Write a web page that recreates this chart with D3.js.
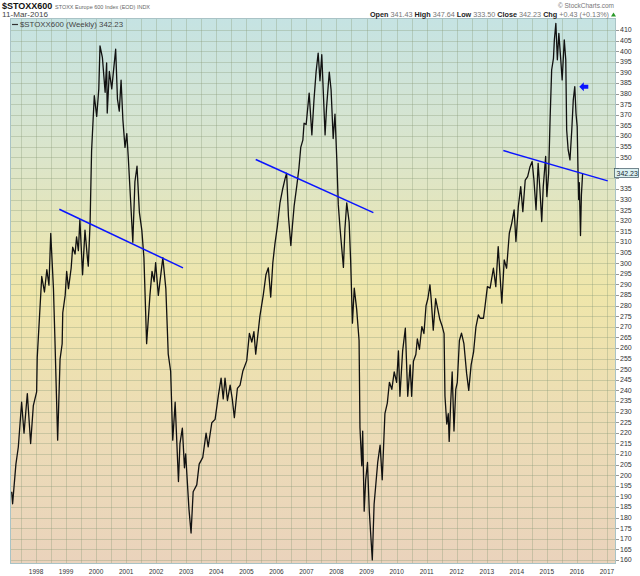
<!DOCTYPE html>
<html>
<head>
<meta charset="utf-8">
<script src="https://cdn.jsdelivr.net/npm/d3@7"></script>
<style>
  body { margin: 0; background: #fff; }
  text { font-family: "Liberation Sans", Arial, sans-serif; }
</style>
</head>
<body>
<svg id="chart" width="640" height="576"></svg>
<script>
// Weekly closes of $STOXX600 (time as decimal year)
const times = [
  1997.19, 1997.22, 1997.33, 1997.41, 1997.52, 1997.60, 1997.71, 1997.82, 1997.91,
  1998.02, 1998.04, 1998.19, 1998.28, 1998.36, 1998.43, 1998.49, 1998.58, 1998.63, 1998.72, 1998.80, 1998.87, 1998.89, 1998.97,
  1999.02, 1999.08, 1999.17, 1999.22, 1999.30, 1999.35, 1999.41, 1999.46, 1999.55, 1999.63, 1999.71, 1999.74, 1999.80, 1999.85, 1999.94,
  2000.02, 2000.09, 2000.13, 2000.21, 2000.30, 2000.35, 2000.37, 2000.44, 2000.52, 2000.57, 2000.65, 2000.71, 2000.77, 2000.83, 2000.89, 2000.96,
  2001.02, 2001.07, 2001.15, 2001.22, 2001.29, 2001.36, 2001.44, 2001.52, 2001.59, 2001.68, 2001.79, 2001.86, 2001.93, 2001.98,
  2002.07, 2002.22, 2002.32, 2002.40, 2002.48, 2002.55, 2002.63, 2002.74, 2002.79, 2002.87, 2002.94, 2002.98,
  2003.09, 2003.16, 2003.23, 2003.35, 2003.43, 2003.55, 2003.66, 2003.73, 2003.85, 2003.96,
  2004.07, 2004.16, 2004.23, 2004.29, 2004.37, 2004.46, 2004.53, 2004.60, 2004.70, 2004.79, 2004.88,
  2005.01, 2005.10, 2005.18, 2005.25, 2005.31, 2005.45, 2005.56, 2005.65, 2005.73, 2005.81, 2005.88, 2005.95,
  2006.03, 2006.12, 2006.21, 2006.29, 2006.34, 2006.40, 2006.48, 2006.53, 2006.59, 2006.68, 2006.75, 2006.81, 2006.88, 2006.92, 2006.99,
  2007.09, 2007.18, 2007.25, 2007.32, 2007.39, 2007.45, 2007.51, 2007.62, 2007.67, 2007.76, 2007.82, 2007.89, 2007.95,
  2008.01, 2008.06, 2008.12, 2008.23, 2008.28, 2008.34, 2008.42, 2008.47, 2008.53, 2008.59, 2008.67, 2008.75, 2008.78, 2008.84, 2008.87, 2008.92, 2008.97,
  2009.03, 2009.09, 2009.19, 2009.25, 2009.31, 2009.37, 2009.45, 2009.52, 2009.61, 2009.69, 2009.76, 2009.84, 2009.92,
  2010.00, 2010.06, 2010.11, 2010.20, 2010.29, 2010.37, 2010.45, 2010.50, 2010.56, 2010.64, 2010.69, 2010.76, 2010.84, 2010.91, 2010.98,
  2011.04, 2011.11, 2011.15, 2011.22, 2011.30, 2011.37, 2011.44, 2011.52, 2011.58, 2011.61, 2011.67, 2011.72, 2011.75, 2011.80, 2011.85, 2011.91, 2011.97,
  2012.02, 2012.09, 2012.16, 2012.24, 2012.33, 2012.40, 2012.48, 2012.56, 2012.64, 2012.72, 2012.78, 2012.89, 2012.94,
  2013.02, 2013.11, 2013.22, 2013.30, 2013.38, 2013.50, 2013.58, 2013.66, 2013.75, 2013.83, 2013.91, 2013.97,
  2014.05, 2014.13, 2014.20, 2014.28, 2014.36, 2014.44, 2014.51, 2014.57, 2014.64, 2014.71, 2014.77, 2014.83, 2014.88, 2014.96,
  2015.00, 2015.06, 2015.11, 2015.16, 2015.22, 2015.25, 2015.30, 2015.35, 2015.40, 2015.46, 2015.51, 2015.58, 2015.63, 2015.66, 2015.71, 2015.77, 2015.83, 2015.88, 2015.93, 2015.97,
  2016.01, 2016.04, 2016.06, 2016.08, 2016.12, 2016.15, 2016.19
];
const closes = [
  192.2, 186.5, 205.2, 213.3, 234.4, 219.8, 238.5, 214.9, 232.8,
  239.3, 255.5, 293.7, 286.4, 296.9, 289.6, 314.0, 288.0, 263.6, 216.5, 254.7, 262.0, 276.6, 284.8,
  296.1, 288.0, 297.7, 307.5, 304.3, 312.4, 305.9, 320.5, 294.5, 315.6, 302.6, 298.6, 318.9, 353.0, 379.0,
  369.2, 382.2, 402.5, 396.9, 380.6, 394.4, 370.8, 390.4, 382.2, 389.5, 400.9, 377.3, 371.7, 386.3, 367.6, 354.6,
  361.1, 349.7, 328.6, 309.9, 338.4, 345.7, 323.8, 315.6, 302.6, 262.0, 284.8, 296.1, 291.3, 300.2,
  284.8, 302.6, 288.0, 257.1, 249.0, 216.5, 234.4, 197.0, 214.9, 222.2, 203.5, 210.0,
  184.0, 172.7, 192.2, 195.4, 205.2, 208.4, 219.8, 213.3, 224.7, 226.3,
  237.6, 245.8, 236.0, 245.8, 235.2, 242.5, 236.0, 227.1, 240.9, 242.5, 249.0,
  253.9, 266.9, 262.8, 267.7, 257.1, 275.0, 284.8, 294.5, 297.8, 284.0, 300.2, 309.1,
  317.2, 328.6, 335.1, 340.0, 342.4, 322.1, 308.3, 317.2, 327.0, 336.7, 344.9, 354.6, 358.0, 366.0, 365.4,
  380.2, 360.5, 376.9, 390.1, 399.1, 386.0, 398.3, 360.5, 373.6, 390.1, 381.8, 358.8, 370.3,
  349.0, 327.6, 316.1, 298.0, 316.1, 328.4, 319.4, 301.3, 271.7, 288.2, 278.3, 263.5, 222.4, 204.4, 220.8, 183.0, 197.8,
  206.0, 183.0, 160.0, 186.3, 196.1, 206.0, 214.2, 197.8, 229.0, 234.0, 243.8, 240.5, 248.7,
  243.8, 258.6, 237.2, 258.6, 269.3, 237.2, 252.0, 237.2, 253.7, 256.9, 264.3, 259.4, 270.1, 266.8, 280.0,
  283.2, 289.8, 283.2, 268.4, 283.2, 278.3, 273.4, 270.1, 266.8, 237.2, 224.1, 229.0, 215.9, 234.0, 248.7, 220.8, 240.5,
  243.8, 263.5, 267.0, 262.0, 248.0, 240.0, 252.0, 258.0, 270.0, 275.6, 274.0, 274.0, 279.5,
  288.9, 288.2, 297.6, 288.9, 307.8, 281.1, 301.5, 297.6, 314.1, 318.8, 325.1, 310.2,
  326.7, 336.1, 324.3, 339.2, 340.8, 345.5, 347.9, 339.2, 325.1, 347.1, 334.5, 319.6, 336.1, 350.3,
  331.4, 342.4, 369.1, 391.1, 396.6, 405.3, 413.1, 395.9, 408.4, 396.6, 386.4, 405.3, 395.9, 362.8, 353.4, 348.7, 362.8, 377.0, 383.3, 370.7,
  364.4, 342.0, 330.0, 338.0, 313.0, 332.0, 342.23
];

// Hand-drawn trend lines and the arrow (time, price)
const trendLines = [
  [[1998.775, 325.4], [2002.892, 297.8]],
  [[2005.311, 348.9], [2009.225, 323.8]],
  [[2013.55, 353.1], [2017.025, 338.8]]
];
const arrowTip = [2016.08, 383.2];

const priceTicks = d3.range(160, 411, 5);
const yearLabels = d3.range(1998, 2018);

const lastClose = "342.23";
const quote = [["Open", "341.43"], ["High", "347.64"], ["Low", "333.50"], ["Close", "342.23"], ["Chg", "+0.43 (+0.13%)"]];

// decimal year -> Date
function toDate(t) {
  const yr = Math.floor(t);
  const a = new Date(yr, 0, 1), b = new Date(yr + 1, 0, 1);
  return new Date(+a + (t - yr) * (b - a));
}

const plotLeft = 10, plotRight = 616, plotTop = 18, plotBottom = 564;

const svg = d3.select("#chart");

const x = d3.scaleTime()
  .domain([toDate(1997.133), toDate(2017.3)])
  .range([plotLeft, plotRight]);

const y = d3.scaleLinear()
  .domain([158.1, 416.1])
  .range([plotBottom, plotTop - 1]);

// Background gradient
const defs = svg.append("defs");
const grad = defs.append("linearGradient")
  .attr("id", "bg").attr("x1", 0).attr("y1", 0).attr("x2", 0).attr("y2", 1);
[["0%", "#c5e3e3"], ["25%", "#dbe5cb"], ["50%", "#efe6aa"], ["75%", "#ecdcb6"], ["100%", "#ead3bc"]]
  .forEach(([o, c]) => grad.append("stop").attr("offset", o).attr("stop-color", c));

defs.append("clipPath").attr("id", "plot")
  .append("rect").attr("x", plotLeft).attr("y", plotTop)
  .attr("width", plotRight - plotLeft).attr("height", plotBottom - plotTop);

svg.append("rect")
  .attr("x", plotLeft).attr("y", plotTop)
  .attr("width", plotRight - plotLeft).attr("height", plotBottom - plotTop)
  .attr("fill", "url(#bg)");

// Grid
const grid = svg.append("g").attr("stroke", "#8a9a78").attr("stroke-opacity", 0.35).attr("stroke-width", 1);

grid.selectAll("line.h")
  .data(priceTicks).enter()
  .append("line")
  .attr("x1", plotLeft).attr("x2", plotRight)
  .attr("y1", d => Math.round(y(d)) + 0.5)
  .attr("y2", d => Math.round(y(d)) + 0.5);

grid.selectAll("line.v")
  .data(d3.timeMonth.every(6).range(x.domain()[0], x.domain()[1])).enter()
  .append("line")
  .attr("y1", plotTop).attr("y2", plotBottom)
  .attr("x1", d => Math.round(x(d)) + 0.5)
  .attr("x2", d => Math.round(x(d)) + 0.5);

// Frame
svg.append("rect")
  .attr("x", plotLeft + 0.5).attr("y", plotTop + 0.5)
  .attr("width", plotRight - plotLeft - 1).attr("height", plotBottom - plotTop - 1)
  .attr("fill", "none").attr("stroke", "#a9c3c6");

// Price line
const data = times.map((t, i) => [toDate(t), closes[i]]);
svg.append("path")
  .datum(data)
  .attr("clip-path", "url(#plot)")
  .attr("fill", "none")
  .attr("stroke", "#111")
  .attr("stroke-width", 1.3)
  .attr("stroke-linejoin", "round")
  .attr("d", d3.line().x(d => x(d[0])).y(d => y(d[1])));

// Trend lines
svg.append("g")
  .selectAll("line")
  .data(trendLines).enter()
  .append("line")
  .attr("x1", d => x(toDate(d[0][0]))).attr("y1", d => y(d[0][1]))
  .attr("x2", d => x(toDate(d[1][0]))).attr("y2", d => y(d[1][1]))
  .attr("stroke", "#0a14ff").attr("stroke-width", 1.5);

// Arrow pointing left
const ax = x(toDate(arrowTip[0])), ay = y(arrowTip[1]);
svg.append("path")
  .attr("d", `M${ax},${ay} l4.5,-4.5 v2.6 h4.5 v3.8 h-4.5 v2.6 z`)
  .attr("fill", "#0a14ff");

// Right axis (labels hidden behind the last-value box are skipped)
const ly = y(+lastClose);
const yAxis = svg.append("g").attr("font-size", 7).attr("fill", "#333");
yAxis.selectAll("line")
  .data(priceTicks).enter()
  .append("line")
  .attr("x1", plotRight).attr("x2", plotRight + 3)
  .attr("y1", d => Math.round(y(d)) + 0.5).attr("y2", d => Math.round(y(d)) + 0.5)
  .attr("stroke", "#999");
yAxis.selectAll("text")
  .data(priceTicks.filter(d => Math.abs(y(d) - ly) > 8)).enter()
  .append("text")
  .attr("x", plotRight + 4)
  .attr("y", d => y(d) + 2.5)
  .text(d => d);

// Last value marker
svg.append("rect")
  .attr("x", plotRight - 1.5).attr("y", ly - 5)
  .attr("width", 24).attr("height", 9)
  .attr("fill", "#dcf1f2").attr("stroke", "#3d5560").attr("stroke-width", 0.7);
svg.append("text")
  .attr("x", plotRight + 0.5).attr("y", ly + 2.5)
  .attr("font-size", 7).attr("fill", "#1a2a33")
  .text(lastClose);

// Bottom axis
svg.append("g")
  .selectAll("text")
  .data(yearLabels).enter()
  .append("text")
  .attr("x", d => x(new Date(d, 0, 1)))
  .attr("y", 574)
  .attr("text-anchor", "middle")
  .attr("font-size", 6.5)
  .attr("fill", "#333")
  .text(d => d);

// Header
svg.append("text")
  .attr("x", 2).attr("y", 9)
  .attr("font-size", 9).attr("font-weight", "bold").attr("fill", "#111")
  .text("$STOXX600");
svg.append("text")
  .attr("x", 55).attr("y", 9)
  .attr("font-size", 6).attr("fill", "#666")
  .attr("textLength", 95).attr("lengthAdjust", "spacingAndGlyphs")
  .text("STOXX Europe 600 Index (EOD) INDX");
svg.append("text")
  .attr("x", 2).attr("y", 17)
  .attr("font-size", 6.5).attr("fill", "#444")
  .attr("textLength", 46).attr("lengthAdjust", "spacingAndGlyphs")
  .text("11-Mar-2016");

svg.append("text")
  .attr("x", 614).attr("y", 8)
  .attr("text-anchor", "end")
  .attr("font-size", 6.5).attr("fill", "#777")
  .text("© StockCharts.com");

const q = svg.append("text")
  .attr("x", 370).attr("y", 17)
  .attr("font-size", 7)
  .attr("textLength", 239).attr("lengthAdjust", "spacingAndGlyphs");
quote.forEach(([k, v], i) => {
  q.append("tspan").attr("font-weight", "bold").attr("fill", "#222").text((i ? "  " : "") + k + " ");
  q.append("tspan").attr("fill", "#777").text(v);
});
svg.append("path")
  .attr("d", "M611,16.5 l2.5,-4 l2.5,4 z")
  .attr("fill", "#2a9a2a");

// Legend
svg.append("line")
  .attr("x1", 12).attr("x2", 18).attr("y1", 24.5).attr("y2", 24.5)
  .attr("stroke", "#333").attr("stroke-width", 1.2);
svg.append("text")
  .attr("x", 20).attr("y", 27)
  .attr("font-family", "DejaVu Sans Mono, monospace")
  .attr("font-size", 7.2).attr("fill", "#444")
  .attr("textLength", 103).attr("lengthAdjust", "spacingAndGlyphs")
  .text("$STOXX600 (Weekly) 342.23");
</script>
</body>
</html>
